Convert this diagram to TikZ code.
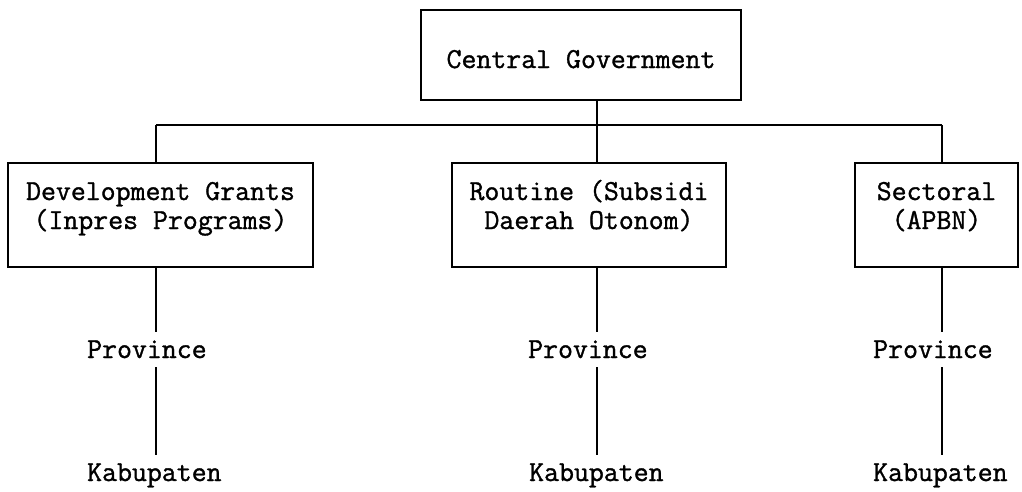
\documentclass[tikz,border=0pt]{standalone}
\usepackage{fontspec}
\setmonofont[FakeBold=1.2]{Latin Modern Mono}
\usepackage{tikz}
\newcommand{\chartfont}{\fontsize{29}{29}\selectfont\ttfamily}
\tikzset{
  fundbox/.style={draw,line width=2pt,inner sep=0pt,anchor=base,font=\chartfont},
  levelname/.style={inner sep=0pt,anchor=base west,text height=26pt,text depth=9pt,font=\chartfont},
  link/.style={line width=1.6pt}
}

\begin{document}
\begin{tikzpicture}[x=1pt,y=-1pt]
    \useasboundingbox (0,0) rectangle (1022,491);
    % top box
    \node [fundbox,minimum width=320pt,text height=58pt,text depth=32pt] (gov)
      at (581,68) {Central Government};
    % the three kinds of transfer
    \node [fundbox,minimum width=305pt,text height=37pt,text depth=67pt] (dev)
      at (160.5,200) {\begin{tabular}[t]{@{}c@{}}Development Grants\\(Inpres Programs)\end{tabular}};
    \node [fundbox,minimum width=274pt,text height=37pt,text depth=67pt] (rtn)
      at (589,200) {\begin{tabular}[t]{@{}c@{}}Routine (Subsidi\\Daerah Otonom)\end{tabular}};
    \node [fundbox,minimum width=163pt,text height=37pt,text depth=67pt] (sec)
      at (936.5,200) {\begin{tabular}[t]{@{}c@{}}Sectoral\\(APBN)\end{tabular}};
    % bus line
    \coordinate (busA) at (156,125);
    \coordinate (busB) at (597,125);
    \coordinate (busC) at (942,125);
    \draw [link] (busA) -- (busC);
    \draw [link] (busB |- gov.south) -- (busB |- rtn.north);
    \draw [link] (busA) -- (busA |- dev.north);
    \draw [link] (busC) -- (busC |- sec.north);
    % lower levels
    \node [levelname] (provA) at (87,358) {Province};
    \node [levelname] (kabA)  at (87,481) {Kabupaten};
    \node [levelname] (provB) at (528,358) {Province};
    \node [levelname] (kabB)  at (529,481) {Kabupaten};
    \node [levelname] (provC) at (873,358) {Province};
    \node [levelname] (kabC)  at (873,481) {Kabupaten};
    \draw [link] (busA |- dev.south) -- (busA |- provA.north);
    \draw [link] (busA |- provA.south) -- (busA |- kabA.north);
    \draw [link] (busB |- rtn.south) -- (busB |- provB.north);
    \draw [link] (busB |- provB.south) -- (busB |- kabB.north);
    \draw [link] (busC |- sec.south) -- (busC |- provC.north);
    \draw [link] (busC |- provC.south) -- (busC |- kabC.north);
\end{tikzpicture}
\end{document}
